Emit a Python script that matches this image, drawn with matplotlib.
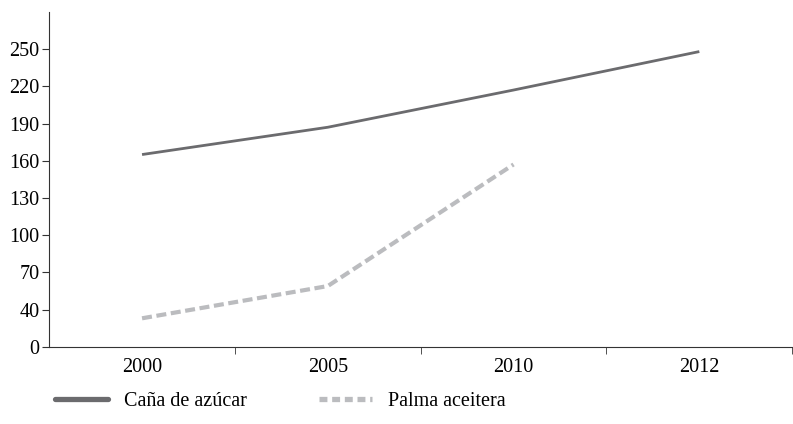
import numpy as np
import matplotlib.pyplot as plt
from matplotlib.lines import Line2D

years = ['2000', '2005', '2010', '2012']
cana = [165, 187, 217, 248]
palma = [33, 59, 157]
yticks = [10, 40, 70, 100, 130, 160, 190, 220, 250]
ytick_labels = ['0', '40', '70', '100', '130', '160', '190', '220', '250']

plt.rcParams['font.family'] = ['Liberation Serif', 'DejaVu Serif']

fig = plt.figure(figsize=(7.93, 4.24), dpi=100)
ax = fig.add_axes([0.062, 0.182, 0.937, 0.79])

x = np.arange(len(years))
ax.plot(x, cana, color='#6b6b6e', lw=2.0, solid_capstyle='butt')
ax.plot(x[:len(palma)], palma, color='#bbbcbf', lw=3, ls=(0, (2.4, 1.1)))

ax.set_xlim(-0.5, 3.5)
ax.set_ylim(10, 280)
ax.set_yticks(yticks)
ax.set_yticklabels(ytick_labels, fontsize=14.5)
ax.set_xticks(x)
ax.set_xticklabels(years, fontsize=14.5)
ax.tick_params(axis='x', length=0, pad=8)
ax.set_xticks(np.arange(0.5, 4, 1), minor=True)
ax.tick_params(axis='x', which='minor', length=5, direction='out', color='#333333')
ax.tick_params(axis='y', length=5, direction='out', color='#333333', pad=2)

for s in ['top', 'right']:
    ax.spines[s].set_visible(False)
ax.spines['left'].set_color('#333333')
ax.spines['bottom'].set_color('#333333')

# legend handles drawn a bit heavier, like the original
handles = [Line2D([], [], color='#6b6b6e', lw=3.8, solid_capstyle='round'),
           Line2D([], [], color='#bbbcbf', lw=3.8, ls=(0, (1.5, 0.9)))]
fig.legend(handles, ['Caña de azúcar', 'Palma aceitera'], loc='lower left',
           bbox_to_anchor=(0.047, -0.012), ncol=2, frameon=False, fontsize=14.5,
           handlelength=2.6, columnspacing=3.6, handletextpad=0.8)

plt.savefig('out.png', dpi=100)
